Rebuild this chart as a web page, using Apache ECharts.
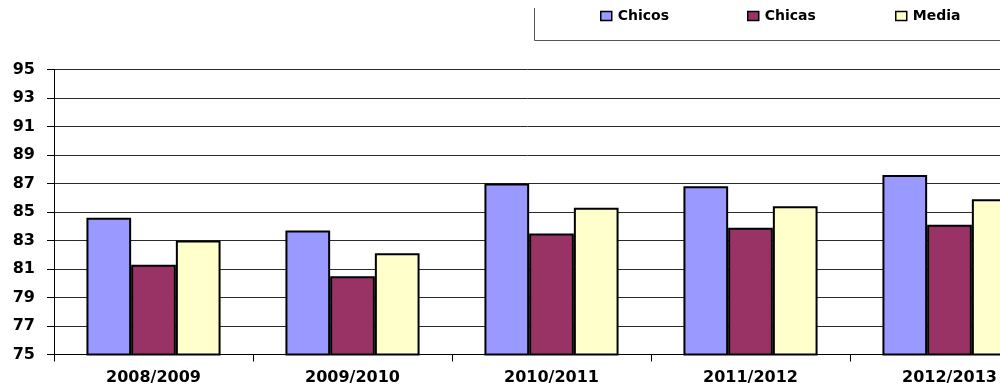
<!DOCTYPE html>
<html>
<head>
<meta charset="utf-8">
<script src="https://cdn.jsdelivr.net/npm/echarts@6/dist/echarts.min.js"></script>
<style>
  html, body { margin: 0; padding: 0; background: #fff; }
  #chart { width: 1000px; height: 390px; }
</style>
</head>
<body>
<div id="chart"></div>
<script>
// School years on the category axis
const cursos = ['2008/2009', '2009/2010', '2010/2011', '2011/2012', '2012/2013'];
// Values per group
const chicos = [84.6, 83.7, 87.0, 86.8, 87.6];
const chicas = [81.3, 80.5, 83.5, 83.9, 84.1];
const media  = [83.0, 82.1, 85.3, 85.4, 85.9];
// Value axis range
const yMin = 75, yMax = 95, yStep = 2;

const FONT = 'DejaVu Sans';
const colors = { Chicos: '#9999FF', Chicas: '#993366', Media: '#FFFFCC' };

function makeSeries(name, values) {
  return {
    name: name,
    type: 'bar',
    data: values,
    barGap: '0%',
    barCategoryGap: '32.6%',
    itemStyle: { color: colors[name], borderColor: '#000', borderWidth: 2 },
    emphasis: { disabled: true }
  };
}

function makeLegend(name, left) {
  return {
    data: [name],
    left: left,
    top: 9,
    padding: 0,
    icon: 'rect',
    itemWidth: 11,
    itemHeight: 9,
    itemGap: 0,
    itemStyle: { borderColor: '#000', borderWidth: 1.5 },
    textStyle: { fontFamily: FONT, fontWeight: 'bold', fontSize: 14, color: '#000', padding: [0, 0, 0, 1] },
    selectedMode: false
  };
}

const chart = echarts.init(document.getElementById('chart'), null, { renderer: 'canvas' });
chart.setOption({
  animation: false,
  backgroundColor: '#fff',
  // the plot area runs past the right edge of the canvas; last category is cut off
  grid: { left: 54, top: 69.5, width: 995, height: 285, containLabel: false, outerBoundsMode: 'none' },
  legend: [
    makeLegend('Chicos', 600),
    makeLegend('Chicas', 747),
    makeLegend('Media', 895)
  ],
  graphic: [{
    type: 'polyline',
    silent: true,
    shape: { points: [[534.5, 8], [534.5, 40.5], [1000, 40.5]] },
    style: { stroke: '#555', lineWidth: 1, fill: null }
  }],
  xAxis: {
    type: 'category',
    data: cursos,
    axisLine: { lineStyle: { color: '#000', width: 1 } },
    axisTick: { show: true, length: 7, lineStyle: { color: '#000' } },
    axisLabel: { fontFamily: FONT, fontWeight: 'bold', fontSize: 16, color: '#000', margin: 15 },
    splitLine: { show: false }
  },
  yAxis: {
    type: 'value',
    min: yMin,
    max: yMax,
    interval: yStep,
    axisLine: { show: true, lineStyle: { color: '#000', width: 1 } },
    axisTick: { show: true, length: 7, lineStyle: { color: '#000' } },
    axisLabel: { fontFamily: FONT, fontWeight: 'bold', fontSize: 16, color: '#000', margin: 19 },
    splitLine: { show: true, lineStyle: { color: '#2a2a2a', width: 1 } }
  },
  series: [
    makeSeries('Chicos', chicos),
    makeSeries('Chicas', chicas),
    makeSeries('Media', media)
  ]
});
</script>
</body>
</html>
